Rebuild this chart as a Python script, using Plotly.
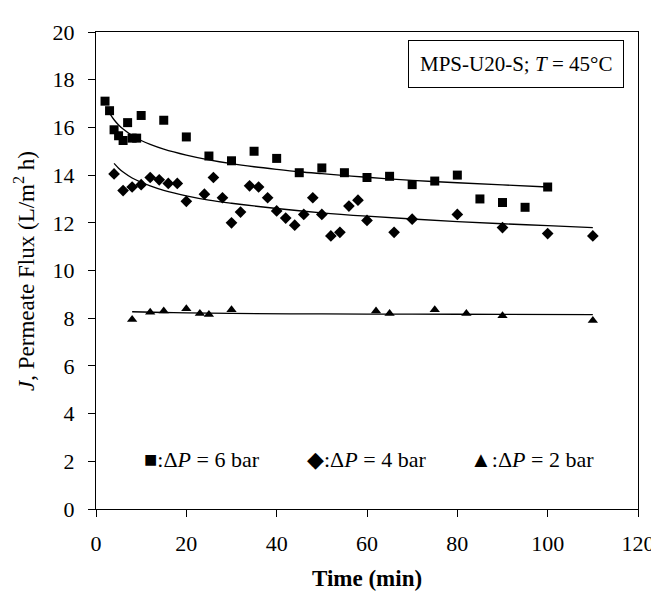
import plotly.graph_objects as go

# Data
t6 = [2, 3, 4, 5, 6, 7, 8, 9, 10, 15, 20, 25, 30, 35, 40, 45, 50, 55, 60, 65, 70, 75, 80, 85, 90, 95, 100]
j6 = [17.1, 16.7, 15.9, 15.65, 15.45, 16.2, 15.55, 15.55, 16.5, 16.3, 15.6, 14.8, 14.6, 15.0, 14.7, 14.1,
      14.3, 14.1, 13.9, 13.95, 13.6, 13.75, 14.0, 13.0, 12.85, 12.65, 13.5]

t4 = [4, 6, 8, 10, 12, 14, 16, 18, 20, 24, 26, 28, 30, 32, 34, 36, 38, 40, 42, 44, 46, 48, 50, 52, 54,
      56, 58, 60, 66, 70, 80, 90, 100, 110]
j4 = [14.05, 13.35, 13.5, 13.6, 13.9, 13.8, 13.65, 13.65, 12.9, 13.2, 13.9, 13.05, 12.0, 12.45, 13.55,
      13.5, 13.05, 12.5, 12.2, 11.9, 12.35, 13.05, 12.35, 11.45, 11.6, 12.7, 12.95, 12.1, 11.6, 12.15,
      12.35, 11.8, 11.55, 11.45]

t2 = [8, 12, 15, 20, 23, 25, 30, 62, 65, 75, 82, 90, 110]
j2 = [7.95, 8.25, 8.3, 8.4, 8.2, 8.15, 8.35, 8.3, 8.2, 8.35, 8.2, 8.1, 7.9]

# Trend lines
fit6_t = [3, 4, 5, 6, 8, 10, 12, 15, 20, 25, 30, 35, 40, 45, 50, 60, 70, 80, 90, 100]
fit6_j = [16.6, 16.32, 16.1, 15.93, 15.66, 15.45, 15.29, 15.09, 14.84, 14.64, 14.48, 14.35, 14.24,
          14.14, 14.06, 13.91, 13.78, 13.68, 13.59, 13.5]
fit4_t = [4, 5, 6, 8, 10, 12, 15, 20, 25, 30, 40, 50, 60, 70, 80, 90, 100, 110]
fit4_j = [14.49, 14.29, 14.13, 13.88, 13.7, 13.55, 13.36, 13.13, 12.95, 12.82, 12.6, 12.42, 12.28,
          12.16, 12.05, 11.96, 11.88, 11.8]
fit2_t = [8, 15, 20, 30, 50, 70, 90, 110]
fit2_j = [8.27, 8.24, 8.22, 8.2, 8.18, 8.17, 8.16, 8.15]

x_ticks = [0, 20, 40, 60, 80, 100, 120]
y_ticks = [0, 2, 4, 6, 8, 10, 12, 14, 16, 18, 20]

legend_labels = ["■:Δ<i>P</i> = 6 bar", "◆:Δ<i>P</i> = 4 bar", "▲:Δ<i>P</i> = 2 bar"]

FONT = "Liberation Serif"

fig = go.Figure()
line_style = dict(color="black", width=1.3)
fig.add_trace(go.Scatter(x=fit6_t, y=fit6_j, mode="lines", line=dict(**line_style, shape="spline"), showlegend=False))
fig.add_trace(go.Scatter(x=fit4_t, y=fit4_j, mode="lines", line=dict(**line_style, shape="spline"), showlegend=False))
fig.add_trace(go.Scatter(x=fit2_t, y=fit2_j, mode="lines", line=dict(**line_style, shape="spline"), showlegend=False))
fig.add_trace(go.Scatter(x=t6, y=j6, mode="markers", marker=dict(symbol="square", size=9, color="black"), showlegend=False))
fig.add_trace(go.Scatter(x=t4, y=j4, mode="markers", marker=dict(symbol="diamond", size=9, color="black"), showlegend=False))
fig.add_trace(go.Scatter(x=t2, y=j2, mode="markers", marker=dict(symbol="triangle-up", size=9, color="black"), showlegend=False))

axis_common = dict(
    showline=True, linecolor="black", linewidth=1.3, mirror=True,
    ticks="outside", ticklen=7, tickwidth=1, tickcolor="black",
    showgrid=False, zeroline=False,
    tickfont=dict(family=FONT, size=22, color="black"),
)

fig.update_xaxes(range=[0, 120], tickvals=x_ticks, ticklabelstandoff=7, **axis_common)
fig.update_yaxes(range=[0, 20], tickvals=y_ticks, ticklabelstandoff=9, **axis_common)

annotations = [
    dict(text="MPS-U20-S; <i>T</i> = 45°C", xref="paper", yref="paper", x=0.775, y=0.932,
         xanchor="center", yanchor="middle", showarrow=False,
         font=dict(family=FONT, size=21, color="black"),
         bordercolor="black", borderwidth=1, borderpad=11, bgcolor="white"),
    dict(text="<b>Time (min)</b>", xref="paper", yref="paper", x=0.5, y=-0.145,
         xanchor="center", yanchor="middle", showarrow=False,
         font=dict(family=FONT, size=23, color="black")),
    dict(text="<i>J</i>, Permeate Flux (L/m<sup>2</sup> h)", xref="paper", yref="paper", x=-0.132, y=0.5,
         xanchor="center", yanchor="middle", showarrow=False, textangle=-90,
         font=dict(family=FONT, size=23, color="black")),
]
for lbl, xp in zip(legend_labels, [0.195, 0.499, 0.805]):
    annotations.append(dict(text=lbl, xref="paper", yref="paper", x=xp, y=0.103,
                            xanchor="center", yanchor="middle", showarrow=False,
                            font=dict(family=FONT, size=22, color="black")))

fig.update_layout(
    width=659, height=592,
    margin=dict(l=88, r=19, t=19, b=91),
    paper_bgcolor="white", plot_bgcolor="white",
    annotations=annotations,
    showlegend=False,
)

fig.write_html("out.html")
